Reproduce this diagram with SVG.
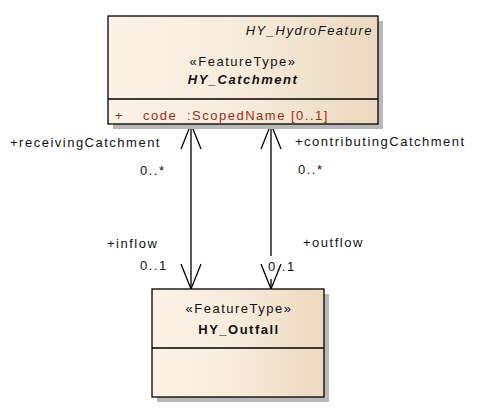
<svg xmlns="http://www.w3.org/2000/svg" width="478" height="414" viewBox="0 0 478 414">
<style>
text{font-family:"Liberation Sans",Arial,sans-serif;font-size:13px;letter-spacing:1.5px;fill:#111}
.box{fill:url(#grad);stroke:#000;stroke-width:1.3}
.shadow{fill:#b8b8b8}
.div{stroke:#000;stroke-width:1.3}
.it{font-style:italic}
.b{font-weight:bold}
.attr{fill:#9a2a1c}
.conn{stroke:#000;stroke-width:1.3;fill:none;marker-start:url(#open);marker-end:url(#open)}
</style>
<defs>
<linearGradient id="grad" x1="0" y1="0" x2="1" y2="0">
<stop offset="0" stop-color="#fcf2e6"/>
<stop offset="0.5" stop-color="#f8ebdb"/>
<stop offset="1" stop-color="#ead9bf"/>
</linearGradient>
<marker id="open" viewBox="-1 -1 28 22" refX="25" refY="10" markerWidth="28" markerHeight="22" markerUnits="userSpaceOnUse" orient="auto-start-reverse">
<path d="M0,0 L25,10 L0,20" fill="none" stroke="#000" stroke-width="1.3"/>
</marker>
</defs>
<g id="connectors">
<line class="conn" x1="191" y1="124" x2="191" y2="289"/>
<line class="conn" x1="271" y1="124" x2="271" y2="289" stroke-dasharray="132 23 10"/>
</g>
<g id="HY_Catchment">
<rect class="shadow" x="113" y="21" width="270" height="108"/>
<rect class="box" x="108" y="16" width="270" height="108"/>
<line class="div" x1="108" y1="99" x2="378" y2="99"/>
<text class="it" x="373" y="35" text-anchor="end">HY_HydroFeature</text>
<text x="243" y="66" text-anchor="middle">«FeatureType»</text>
<text class="it b" x="243" y="84" text-anchor="middle">HY_Catchment</text>
<text class="attr" x="115" y="120">+</text>
<text class="attr" x="143" y="120">code</text>
<text class="attr" x="187" y="120">:ScopedName [0..1]</text>
</g>
<g id="HY_Outfall">
<rect class="shadow" x="157" y="294" width="172" height="108"/>
<rect class="box" x="152" y="289" width="172" height="108"/>
<line class="div" x1="152" y1="348" x2="324" y2="348"/>
<text x="239" y="313" text-anchor="middle">«FeatureType»</text>
<text class="b" x="239" y="334" text-anchor="middle">HY_Outfall</text>
</g>
<g id="labels">
<text x="10" y="147">+receivingCatchment</text>
<text x="140" y="175">0..*</text>
<text x="107" y="248">+inflow</text>
<text x="140" y="270">0..1</text>
<text x="295" y="146">+contributingCatchment</text>
<text x="298" y="174">0..*</text>
<text x="303" y="247">+outflow</text>
<text x="268" y="271">0..1</text>
</g>
</svg>
